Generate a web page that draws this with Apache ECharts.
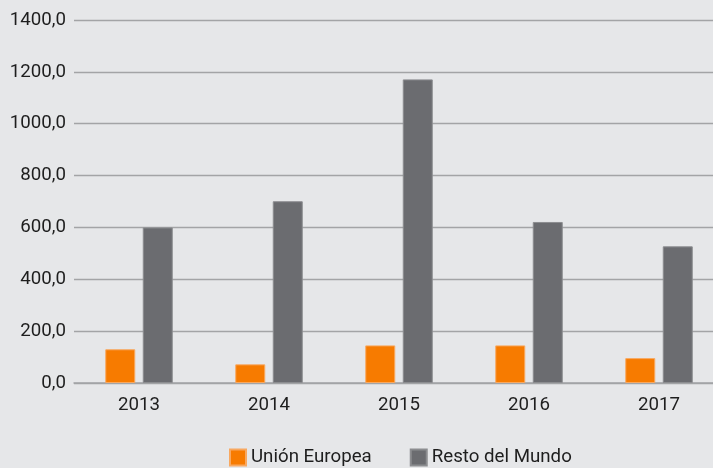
<!DOCTYPE html>
<html lang="es">
<head>
    <meta charset="UTF-8">
    <title>Unión Europea / Resto del Mundo</title>
    <script src="https://cdn.jsdelivr.net/npm/echarts@6/dist/echarts.min.js"></script>
    <style>
        html, body { margin: 0; padding: 0; background: #E6E7E9; }
        #main { width: 713px; height: 468px; }
    </style>
</head>
<body>
    <div id="main"></div>
    <script>
        var years = ['2013', '2014', '2015', '2016', '2017'];
        var unionEuropea = [130, 72, 145, 145, 96];
        var restoMundo = [600, 701, 1171, 621, 527];
        var seriesNames = ['Unión Europea', 'Resto del Mundo'];

        var chart = echarts.init(document.getElementById('main'));
        var font = 'Roboto, "Noto Sans", sans-serif';
        var fs = 18.7;

        var option = {
            backgroundColor: '#E6E7E9',
            animation: false,
            textStyle: { fontFamily: font },
            grid: {
                left: 74,
                width: 650,
                top: 20,
                bottom: 85,
                outerBoundsMode: 'none'
            },
            legend: {
                data: seriesNames,
                left: 224,
                top: 443,
                icon: 'rect',
                itemWidth: 16,
                itemHeight: 16,
                itemGap: 38,
                textStyle: { fontSize: fs, color: '#1E1E1E', fontFamily: font },
                selectedMode: false
            },
            xAxis: {
                type: 'category',
                data: years,
                axisTick: { show: false },
                axisLine: { lineStyle: { color: '#A3A4A6', width: 1.5 } },
                axisLabel: { fontSize: fs, color: '#1E1E1E', margin: 13, fontFamily: font }
            },
            yAxis: {
                type: 'value',
                min: 0,
                max: 1400,
                interval: 200,
                axisLine: { show: false },
                axisTick: { show: false },
                splitLine: { lineStyle: { color: '#A3A4A6', width: 1.3 } },
                axisLabel: {
                    fontSize: fs,
                    color: '#1E1E1E',
                    margin: 8,
                    fontFamily: font,
                    formatter: function (v) { return v.toFixed(1).replace('.', ','); }
                }
            },
            series: [
                {
                    name: seriesNames[0],
                    type: 'bar',
                    data: unionEuropea,
                    barWidth: 30,
                    barGap: '25%',
                    itemStyle: { color: '#F77B00', borderColor: '#F8A860', borderWidth: 1 }
                },
                {
                    name: seriesNames[1],
                    type: 'bar',
                    data: restoMundo,
                    barWidth: 30,
                    itemStyle: { color: '#6B6C70', borderColor: '#8C8D90', borderWidth: 1 }
                }
            ]
        };

        chart.setOption(option);
    </script>
</body>
</html>
